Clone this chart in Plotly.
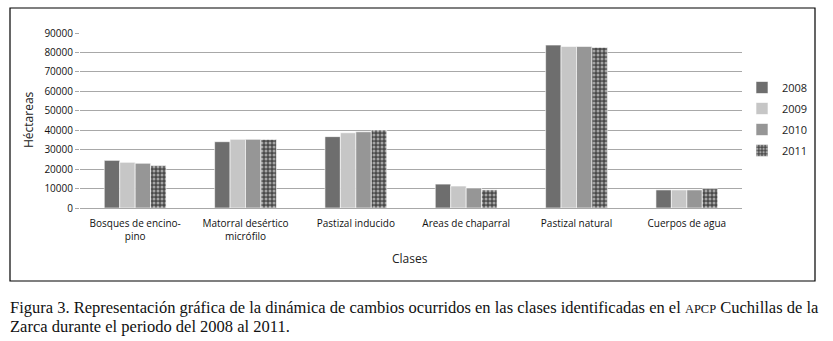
import plotly.graph_objects as go

categories = ["Bosques de encino-<br>pino", "Matorral desértico<br>micrófilo", "Pastizal inducido",
              "Areas de chaparral", "Pastizal natural", "Cuerpos de agua"]
years = ["2008", "2009", "2010", "2011"]
v2008 = [24500, 34100, 36700, 12300, 83800, 9300]
v2009 = [23500, 35300, 38700, 11300, 83100, 9300]
v2010 = [23000, 35300, 39200, 10300, 83100, 9300]
v2011 = [21800, 35200, 40100, 9300, 82600, 9900]
series = [v2008, v2009, v2010, v2011]
colors = ["#6e6e6e", "#c6c6c6", "#969696", "#4a4a4a"]

W, H = 833, 341
L, R, T, B = 80, 742, 33, 208
pw, ph = R - L, B - T
def px(x): return (x - L) / pw
def py(y): return (B - y) / ph

fig = go.Figure()
for i, (yr, vals) in enumerate(zip(years, series)):
    kw = {}
    if yr == "2011":
        kw = dict(pattern=dict(shape=".", fgcolor="white", size=4, solidity=0.45))
    fig.add_trace(go.Bar(
        x=categories, y=vals, name=yr, legendgroup=yr,
        marker=dict(color=colors[i], line=dict(color="white", width=0.6), **kw),
    ))

fig.update_layout(
    width=W, height=H,
    margin=dict(l=L, r=W - R, t=T, b=H - B, autoexpand=False),
    paper_bgcolor="white", plot_bgcolor="white",
    barmode="group", bargap=0.44, bargroupgap=0,
    font=dict(family="Open Sans, Liberation Sans, sans-serif", color="#222", size=10),
    legend=dict(x=px(742), y=py(73), xanchor="left", yanchor="top",
                font=dict(size=11, color="#222"), tracegroupgap=2,
                bgcolor="rgba(0,0,0,0)", itemwidth=30),
    showlegend=True,
)
fig.update_yaxes(range=[0, 90000], dtick=10000, showgrid=True, gridcolor="#a8a8a8",
                 gridwidth=1, zeroline=False, showline=False, ticks="outside",
                 ticklen=4, tickcolor="#a8a8a8", tickfont=dict(size=10, color="#111"),
                 tickformat="d")
fig.update_xaxes(showline=True, linecolor="#a8a8a8", linewidth=1, ticks="",
                 tickfont=dict(size=10, color="#111"), ticklabelstandoff=6)

shapes = [dict(type="rect", xref="paper", yref="paper",
               x0=px(10), x1=px(815), y0=py(281), y1=py(8),
               line=dict(color="black", width=1.2), fillcolor="rgba(0,0,0,0)")]
fig.update_layout(shapes=shapes)

ann = [
    dict(text="Héctareas", x=px(28), y=py(120), textangle=-90, font=dict(size=12)),
    dict(text="Clases", x=px(410), y=py(258), font=dict(size=12)),
    dict(text="Figura 3. Representación gráfica de la dinámica de cambios ocurridos en las clases identificadas en el <span style='font-size:12.5px'>APCP</span> Cuchillas de la",
         x=px(8), y=py(307), xanchor="left", font=dict(family="Liberation Serif, serif", size=16.5, color="#111")),
    dict(text="Zarca durante el periodo del 2008 al 2011.",
         x=px(8), y=py(326), xanchor="left", font=dict(family="Liberation Serif, serif", size=16.5, color="#111")),
]
for a in ann:
    a.setdefault("xanchor", "center")
    fig.add_annotation(xref="paper", yref="paper", showarrow=False, yanchor="middle", **a)

fig.write_html("out.html")
